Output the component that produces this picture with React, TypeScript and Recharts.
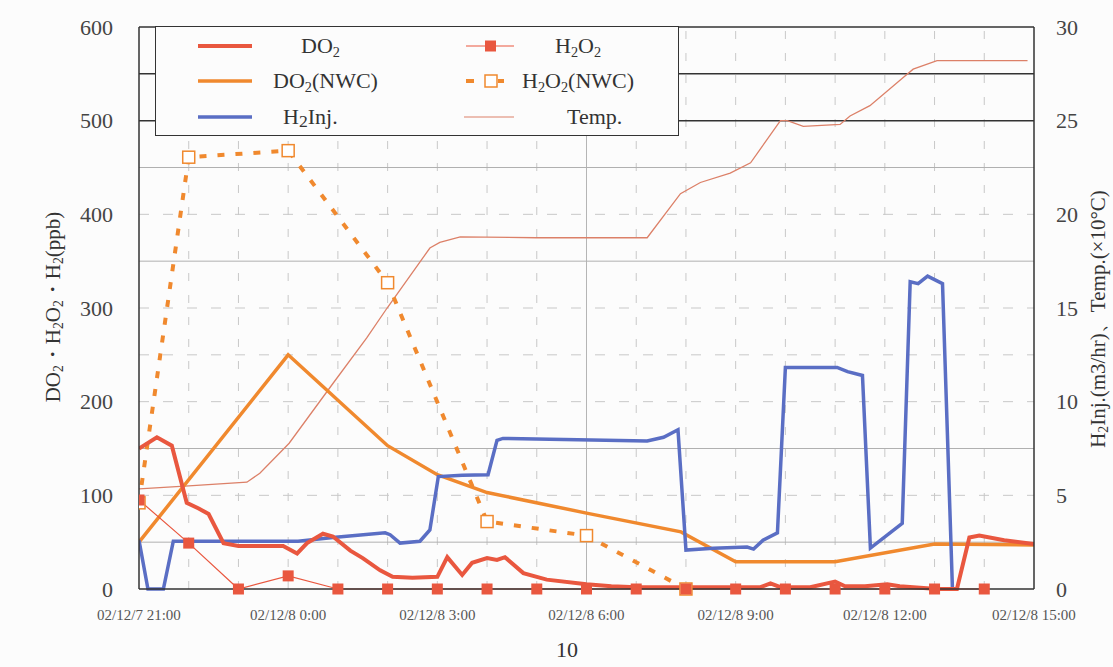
import React from "react";
import {
  ComposedChart,
  Line,
  XAxis,
  YAxis,
  ReferenceLine,
} from "recharts";

// hours after 02/12/7 21:00
const xTicks = [0, 3, 6, 9, 12, 15, 18];
const xTickLabels = [
  "02/12/7 21:00",
  "02/12/8 0:00",
  "02/12/8 3:00",
  "02/12/8 6:00",
  "02/12/8 9:00",
  "02/12/8 12:00",
  "02/12/8 15:00",
];
const leftTicks = [0, 100, 200, 300, 400, 500, 600];
const rightTicks = [0, 5, 10, 15, 20, 25, 30];

// DO2 (ppb)
const do2Time = [0, 0.36, 0.66, 0.96, 1.2, 1.4, 1.7, 2.0, 2.9, 3.18, 3.38, 3.7, 3.9, 4.25, 4.5, 4.85, 5.1, 5.5, 6.0, 6.2, 6.5, 6.7, 7.0, 7.2, 7.36, 7.73, 8.2, 9.0, 9.5, 10.0, 11.0, 12.0, 12.5, 12.7, 12.9, 13.5, 14.0, 14.2, 14.6, 15.05, 15.3, 16.05, 16.45, 16.7, 16.9, 17.4, 18];
const do2Value = [150, 162, 153, 92, 86, 80, 49, 46, 46, 38, 49, 59, 56, 41, 33, 20, 13, 12, 13, 34, 15, 28, 33, 31, 34, 17, 10, 5, 3, 2, 2, 2, 2, 6, 2, 2, 8, 3, 3, 5, 3, 0, 0, 55, 57, 52, 48];

// DO2(NWC) (ppb)
const do2NwcTime = [0, 3, 5, 6, 7, 9, 10.9, 12, 14, 16, 18];
const do2NwcValue = [50, 250, 153, 122, 103, 81, 61, 29, 29, 48, 47];

// H2O2 (ppb)
const h2o2Time = [0, 1, 2, 3, 4, 5, 6, 7, 8, 9, 10, 11, 12, 13, 14, 15, 16, 17];
const h2o2Value = [95, 49, 0, 14, 0, 0, 0, 0, 0, 0, 0, 0, 0, 0, 0, 0, 0, 0];

// H2O2(NWC) (ppb)
const h2o2NwcTime = [0, 1, 3, 5, 7, 9, 11];
const h2o2NwcValue = [92, 461, 468, 327, 72, 57, 0];

// H2 injection (m3/hr)
const h2InjTime = [0, 0.18, 0.49, 0.69, 3.2, 3.9, 4.95, 5.05, 5.25, 5.65, 5.85, 6.02, 6.5, 7.02, 7.2, 7.32, 10.22, 10.55, 10.84, 11.0, 11.55, 12.23, 12.36, 12.55, 12.84, 13.0, 14.04, 14.25, 14.55, 14.71, 15.35, 15.51, 15.67, 15.86, 16.16, 16.36];
const h2InjValue = [2.6, 0, 0, 2.55, 2.55, 2.75, 3.0, 2.9, 2.45, 2.55, 3.15, 6.0, 6.07, 6.1, 7.94, 8.04, 7.9, 8.1, 8.5, 2.08, 2.18, 2.24, 2.13, 2.6, 3.0, 11.83, 11.83, 11.6, 11.4, 2.18, 3.5, 16.4, 16.3, 16.7, 16.3, 0];

// Temp (x10 degC)
const tempTime = [0, 1.0, 2.17, 2.43, 3.02, 3.9, 4.58, 4.99, 5.85, 6.05, 6.46, 8, 10.22, 10.89, 11.29, 11.89, 12.3, 12.9, 13.04, 13.36, 14.1, 14.3, 14.7, 15.37, 15.57, 16.05, 17.87];
const tempValue = [5.35, 5.5, 5.7, 6.18, 7.78, 10.97, 13.4, 15.0, 18.2, 18.5, 18.8, 18.75, 18.75, 21.1, 21.7, 22.2, 22.75, 25.0, 25.0, 24.7, 24.8, 25.25, 25.8, 27.3, 27.75, 28.2, 28.2];

// gridlines
const solidGrid = [50, 150, 350, 450];
const dashedGrid = [100, 200, 250, 300, 400];
const darkGrid = [500, 550];
const hourGrid = [1, 2, 3, 4, 5, 6, 7, 8, 9, 10, 11, 12, 13, 14, 15, 16, 17];

const zip = (t: number[], v: number[]) => t.map((x, i) => ({ t: x, v: v[i] }));

const RED = "#e9573f";
const ORANGE = "#f0892e";
const BLUE = "#5a6ec4";
const TEMP = "#dc8068";
const FONT = '"Liberation Serif", "DejaVu Serif", serif';

const filledSquare = (p: any) => (
  <rect key={"f" + p.index} x={p.cx - 5.5} y={p.cy - 5.5} width={11} height={11} fill={RED} />
);
const hollowSquare = (p: any) => (
  <rect key={"h" + p.index} x={p.cx - 6} y={p.cy - 6} width={12} height={12} fill="#fff" stroke={ORANGE} strokeWidth={1.5} />
);

function Sample({ kind }: { kind: string }) {
  return (
    <svg width={56} height={14} style={{ display: "block" }}>
      {kind === "do2" && <line x1={0} y1={7} x2={54} y2={7} stroke={RED} strokeWidth={4} />}
      {kind === "do2nwc" && <line x1={0} y1={7} x2={54} y2={7} stroke={ORANGE} strokeWidth={3.5} />}
      {kind === "h2" && <line x1={0} y1={7} x2={54} y2={7} stroke={BLUE} strokeWidth={3.5} />}
      {kind === "h2o2" && (
        <g>
          <line x1={2} y1={7} x2={50} y2={7} stroke={RED} strokeWidth={1.2} />
          <rect x={21} y={1.5} width={11} height={11} fill={RED} />
        </g>
      )}
      {kind === "h2o2nwc" && (
        <g>
          <line x1={2} y1={7} x2={10} y2={7} stroke={ORANGE} strokeWidth={4} />
          <rect x={21} y={1} width={12} height={12} fill="#fff" stroke={ORANGE} strokeWidth={1.5} />
          <line x1={34} y1={7} x2={40} y2={7} stroke={ORANGE} strokeWidth={4} />
        </g>
      )}
      {kind === "temp" && <line x1={0} y1={7} x2={50} y2={7} stroke={TEMP} strokeWidth={1.2} />}
    </svg>
  );
}

const subStyle: React.CSSProperties = { fontSize: "0.65em", verticalAlign: "-0.25em" };

export default function App() {
  const rowStyle = (center: number, left: number): React.CSSProperties => ({
    position: "absolute",
    top: center - 13,
    left,
    height: 26,
    lineHeight: "26px",
    whiteSpace: "nowrap",
  });
  const sampleStyle = (center: number, left: number): React.CSSProperties => ({
    position: "absolute",
    top: center - 7,
    left,
  });
  return (
    <div
      style={{
        position: "absolute",
        left: 0,
        top: 0,
        width: 1113,
        height: 667,
        background: "#fcfcfc",
        fontFamily: FONT,
        overflow: "hidden",
      }}
    >
      <ComposedChart
        width={1113}
        height={667}
        margin={{ top: 27, right: 29, bottom: 48, left: 59 }}
      >
        <XAxis
          xAxisId={0}
          type="number"
          dataKey="t"
          domain={[0, 18]}
          ticks={xTicks}
          tickFormatter={(v: number) => xTickLabels[xTicks.indexOf(v)]}
          tick={{ fill: "#555", fontSize: 15, fontFamily: FONT }}
          tickLine={false}
          tickMargin={14}
          height={30}
          axisLine={{ stroke: "#333", strokeWidth: 1.5 }}
          allowDataOverflow
        />
        <YAxis
          yAxisId="left"
          domain={[0, 600]}
          ticks={leftTicks}
          width={80}
          tick={{ fill: "#444", fontSize: 22, fontFamily: FONT }}
          tickLine={false}
          tickMargin={20}
          axisLine={{ stroke: "#333", strokeWidth: 1.5 }}
        />
        <YAxis
          yAxisId="right"
          orientation="right"
          domain={[0, 30]}
          ticks={rightTicks}
          width={50}
          tick={{ fill: "#444", fontSize: 22, fontFamily: FONT, textAnchor: "start" }}
          tickLine={false}
          tickMargin={16}
          axisLine={{ stroke: "#333", strokeWidth: 1.5 }}
        />

        {hourGrid.map((h) => (
          <ReferenceLine
            key={"vh" + h}
            x={h}
            yAxisId="left"
            stroke={h === 9 ? "#b5b5b5" : "#c8c8c8"}
            strokeDasharray={h === 9 ? undefined : "8 14"}
          />
        ))}
        {solidGrid.map((g) => (
          <ReferenceLine key={"s" + g} y={g} yAxisId="left" stroke="#b0b0b0" />
        ))}
        {dashedGrid.map((g) => (
          <ReferenceLine key={"d" + g} y={g} yAxisId="left" stroke="#c8c8c8" strokeDasharray="10 14" />
        ))}
        {darkGrid.map((g) => (
          <ReferenceLine key={"k" + g} y={g} yAxisId="left" stroke="#333" strokeWidth={1.5} />
        ))}
        <ReferenceLine y={600} yAxisId="left" stroke="#333" strokeWidth={1.5} />

        <Line
          data={zip(tempTime, tempValue)}
          dataKey="v"
          yAxisId="right"
          stroke={TEMP}
          strokeWidth={1.3}
          dot={false}
          isAnimationActive={false}
        />
        <Line
          data={zip(h2o2NwcTime, h2o2NwcValue)}
          dataKey="v"
          yAxisId="left"
          stroke={ORANGE}
          strokeWidth={4}
          strokeDasharray="7 11"
          dot={hollowSquare}
          isAnimationActive={false}
        />
        <Line
          data={zip(do2NwcTime, do2NwcValue)}
          dataKey="v"
          yAxisId="left"
          stroke={ORANGE}
          strokeWidth={3.5}
          dot={false}
          isAnimationActive={false}
        />
        <Line
          data={zip(h2InjTime, h2InjValue)}
          dataKey="v"
          yAxisId="right"
          stroke={BLUE}
          strokeWidth={3.5}
          dot={false}
          isAnimationActive={false}
        />
        <Line
          data={zip(do2Time, do2Value)}
          dataKey="v"
          yAxisId="left"
          stroke={RED}
          strokeWidth={4}
          dot={false}
          isAnimationActive={false}
        />
        <Line
          data={zip(h2o2Time, h2o2Value)}
          dataKey="v"
          yAxisId="left"
          stroke={RED}
          strokeWidth={1.2}
          dot={filledSquare}
          isAnimationActive={false}
        />
      </ComposedChart>

      {/* legend box */}
      <div
        style={{
          position: "absolute",
          left: 155,
          top: 26,
          width: 524,
          height: 110,
          background: "#fcfcfc",
          border: "1.5px solid #333",
          boxSizing: "border-box",
          fontSize: 22,
          color: "#333",
        }}
      >
        <div style={sampleStyle(19, 42)}><Sample kind="do2" /></div>
        <div style={rowStyle(19, 145)}><span>DO<span style={subStyle}>2</span></span></div>
        <div style={sampleStyle(54, 42)}><Sample kind="do2nwc" /></div>
        <div style={rowStyle(54, 117)}><span>DO<span style={subStyle}>2</span>(NWC)</span></div>
        <div style={sampleStyle(90, 42)}><Sample kind="h2" /></div>
        <div style={rowStyle(90, 127)}><span>H<span style={{ fontSize: "0.8em", verticalAlign: "-0.15em" }}>2</span>Inj.</span></div>

        <div style={sampleStyle(19, 308)}><Sample kind="h2o2" /></div>
        <div style={rowStyle(19, 399)}><span>H<span style={subStyle}>2</span>O<span style={subStyle}>2</span></span></div>
        <div style={sampleStyle(54, 308)}><Sample kind="h2o2nwc" /></div>
        <div style={rowStyle(54, 366)}><span>H<span style={subStyle}>2</span>O<span style={subStyle}>2</span>(NWC)</span></div>
        <div style={sampleStyle(90, 308)}><Sample kind="temp" /></div>
        <div style={rowStyle(90, 411)}><span>Temp.</span></div>
      </div>

      {/* axis titles */}
      <div
        style={{
          position: "absolute",
          left: 53,
          top: 307,
          transform: "translate(-50%, -50%) rotate(-90deg)",
          whiteSpace: "nowrap",
          fontSize: 21,
          color: "#333",
        }}
      >
        DO<span style={subStyle}>2</span>・H<span style={subStyle}>2</span>O<span style={subStyle}>2</span>・H<span style={subStyle}>2</span>(ppb)
      </div>
      <div
        style={{
          position: "absolute",
          left: 1101,
          top: 319,
          transform: "translate(-50%, -50%) rotate(-90deg)",
          whiteSpace: "nowrap",
          fontSize: 21,
          lineHeight: "22px",
          color: "#333",
        }}
      >
        H<span style={subStyle}>2</span>Inj.(m3/hr)、Temp.(×10°C)
      </div>

      {/* page number */}
      <div style={{ position: "absolute", left: 556, top: 638, fontSize: 22, lineHeight: "24px", color: "#333" }}>10</div>
    </div>
  );
}
